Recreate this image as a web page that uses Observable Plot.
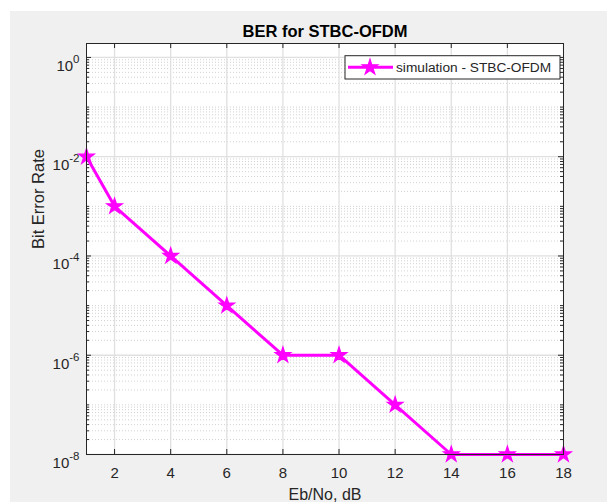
<!DOCTYPE html>
<html>
<head>
<meta charset="utf-8">
<script src="https://cdn.jsdelivr.net/npm/d3@7"></script>
<script src="https://cdn.jsdelivr.net/npm/@observablehq/plot@0.6"></script>
<style>
  html, body { margin: 0; padding: 0; background: #ffffff; overflow: hidden; }
  #chart { position: absolute; left: 10px; top: 11px; }
  #chart svg { display: block; }
</style>
</head>
<body>
<div id="chart"></div>
<script>
// ---- data ----
const snrDb = [1, 2, 4, 6, 8, 10, 12, 14, 16, 18];
const berValues = [1e-2, 1e-3, 1e-4, 1e-5, 1e-6, 1e-6, 1e-7, 1e-8, 1e-8, 1e-8];
const xTicks = [2, 4, 6, 8, 10, 12, 14, 16, 18];
const yTicks = [1e0, 1e-2, 1e-4, 1e-6, 1e-8];
const yMinorTicks = [];
for (let e = -8; e <= 0; e++) {
  for (let k = 1; k <= 9; k++) {
    const v = k * Math.pow(10, e);
    if (v <= 1.91 && !(k === 1 && e % 2 === 0)) yMinorTicks.push(+v.toPrecision(3));
  }
}
const titleText = "BER for STBC-OFDM";
const xLabel = "Eb/No, dB";
const yLabel = "Bit Error Rate";
const seriesName = "simulation - STBC-OFDM";

const W = 597, H = 491;
const mL = 76, mT = 32, mR = 44, mB = 48;
const fw = W - mL - mR, fh = H - mT - mB;
const ink = "#262626";
const magenta = "#ff00ff";

const data = snrDb.map((x, i) => ({x, y: berValues[i]}));

const chart = Plot.plot({
  width: W, height: H,
  marginLeft: mL, marginTop: mT, marginRight: mR, marginBottom: mB,
  style: {background: "#f0f0f0", fontFamily: "'Liberation Sans', Arial, sans-serif", fontSize: "15px", color: ink, overflow: "visible"},
  x: {domain: [1, 18]},
  y: {type: "log", domain: [1e-8, 1.91]},
  marks: [
    Plot.frame({fill: "white", stroke: null}),
    Plot.gridY(yMinorTicks, {stroke: "#d2d2d2", strokeOpacity: 1, strokeDasharray: "1,2"}),
    Plot.gridY(yTicks, {stroke: "#e0e0e0", strokeOpacity: 1, strokeWidth: 1.3}),
    Plot.gridX(xTicks, {stroke: "#e0e0e0", strokeOpacity: 1, strokeWidth: 1.3}),
    // inner tick marks on all four sides
    Plot.tickX(xTicks, {x: d => d, insetTop: fh - 5, stroke: ink}),
    Plot.tickX(xTicks, {x: d => d, insetBottom: fh - 5, stroke: ink}),
    Plot.tickY(yTicks, {y: d => d, insetRight: fw - 5, stroke: ink}),
    Plot.tickY(yTicks, {y: d => d, insetLeft: fw - 5, stroke: ink}),
    Plot.tickY(yMinorTicks, {y: d => d, insetRight: fw - 3, stroke: ink}),
    Plot.tickY(yMinorTicks, {y: d => d, insetLeft: fw - 3, stroke: ink}),
    Plot.axisX(xTicks, {tickSize: 0, tickPadding: 13, label: null, fontSize: 15, color: ink}),
    Plot.axisY(yTicks, {tickSize: 0, tickPadding: 7, label: null, fontSize: 15, color: ink,
      tickFormat: d => "10^" + Math.round(Math.log10(d))}),
    Plot.line(data, {x: "x", y: "y", stroke: magenta, strokeWidth: 3}),
    Plot.dot(data, {x: "x", y: "y", symbol: "star", r: 4.9, fill: magenta, stroke: magenta, strokeWidth: 1.2}),
    Plot.frame({stroke: ink, strokeWidth: 1}),
    Plot.text([titleText], {frameAnchor: "top", lineAnchor: "bottom", dy: -7, fontWeight: "bold", fontSize: 16.5, fill: "#000"}),
    Plot.text([xLabel], {frameAnchor: "bottom", lineAnchor: "top", dy: 34, fontSize: 16, fill: ink}),
    Plot.text([yLabel], {frameAnchor: "left", rotate: -90, dx: -48, fontSize: 16.5, fill: ink})
  ]
});

// superscript exponents on y tick labels
d3.select(chart).selectAll('g[aria-label="y-axis tick label"] text').each(function() {
  const t = d3.select(this);
  const s = t.text();
  const exp = s.split("^")[1];
  t.text(null).attr("dy", "0.58em");
  t.append("tspan").text("10");
  t.append("tspan").attr("dy", -8).attr("font-size", 11.5).text(exp);
});

// legend box (top-right, inside the axes)
const lg = d3.select(chart).append("g").attr("aria-label", "legend").attr("text-anchor", "start");
const lx = 335, ly = 44.7, lw = 215, lh = 23.3;
lg.append("rect").attr("x", lx).attr("y", ly).attr("width", lw).attr("height", lh)
  .attr("fill", "white").attr("stroke", ink).attr("stroke-width", 1);
const cy = ly + lh / 2;
lg.append("line").attr("x1", lx + 3).attr("x2", lx + 48).attr("y1", cy).attr("y2", cy)
  .attr("stroke", magenta).attr("stroke-width", 3);
lg.append("path").attr("d", d3.symbol(d3.symbolStar, Math.PI * 4.9 * 4.9)())
  .attr("transform", `translate(${lx + 25},${cy})`)
  .attr("fill", magenta).attr("stroke", magenta).attr("stroke-width", 1.2);
lg.append("text").attr("x", lx + 51).attr("y", cy).attr("dy", "0.35em")
  .attr("text-anchor", "start").attr("font-size", 13.7).attr("fill", ink).text(seriesName);

document.getElementById("chart").append(chart);
</script>
</body>
</html>
